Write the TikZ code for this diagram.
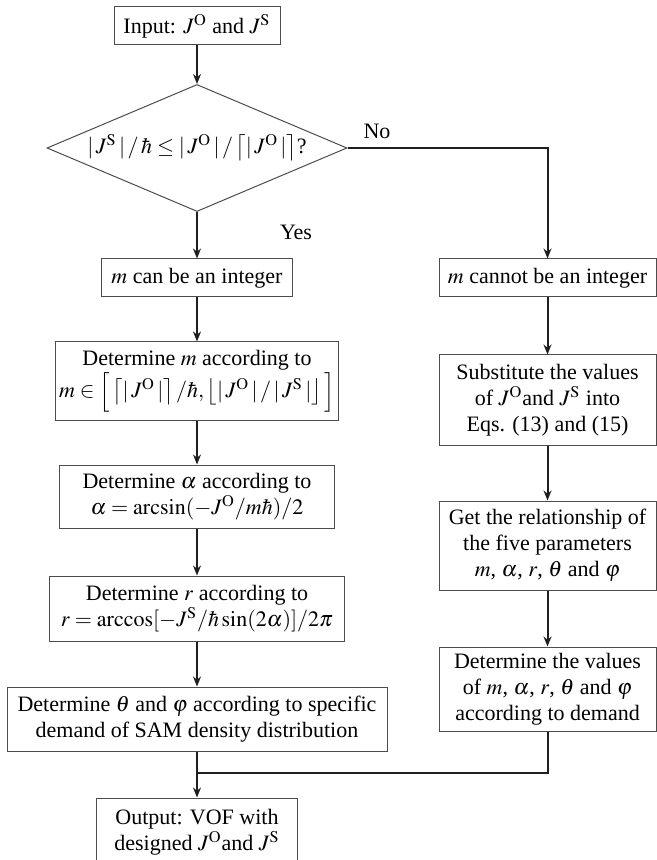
\documentclass[tikz,border=0pt]{standalone}
\usepackage{amsmath,amssymb}
\usepackage{mathptmx}
\usepackage[no-math]{fontspec}
\setmainfont{Liberation Serif}
\usetikzlibrary{
		positioning,
		arrows.meta,
		shapes.geometric
	}
\definecolor{boxline}{gray}{0.3}
\definecolor{flowline}{gray}{0.12}
\tikzset{
		>={Stealth[length=5pt,width=4pt]},
		box/.style={draw=boxline, line width=0.5pt, align=center, inner sep=2pt,
			font=\fontsize{11}{13}\selectfont},
		decision/.style={box, shape=diamond, aspect=2.36, inner sep=1pt},
		flow/.style={draw=flowline, line width=1pt},
		answer/.style={font=\fontsize{11}{13}\selectfont}
	}
\newcommand{\JO}{J^{\mathrm{O}}}
\newcommand{\JS}{J^{\mathrm{S}}}
\begin{document}
\begin{tikzpicture}[x=0.5pt,y=-0.5pt]
		\useasboundingbox (0,0) rectangle (657,860);
		% Left column
		\node[box, minimum width=83pt, minimum height=19pt] (input) at (197,26) {Input: $\JO$ and $\JS$};
		\node[decision, minimum width=150pt, minimum height=63.5pt] (test) at (197,148)
			{$|\,\JS\,|\,/\,\hbar\le|\,\JO\,|\,/\left\lceil|\,\JO\,|\right\rceil$?};
		\node[box, minimum width=95.5pt, minimum height=19pt] (canint) at (197,278) {$m$ can be an integer};
		\node[box, minimum width=140.5pt, minimum height=39pt] (detm) at (197,381)
			{Determine $m$ according to\\ $m\in\Big[\left\lceil|\,\JO\,|\right\rceil/\hbar,\left\lfloor|\,\JO\,|\,/\,|\,\JS\,|\right\rfloor\Big]$};
		\node[box, minimum width=137.5pt, minimum height=31.5pt] (deta) at (197,496.5)
			{Determine $\alpha$ according to\\ $\alpha=\arcsin(-\JO/m\hbar)/2$};
		\node[box, minimum width=147.5pt, minimum height=32.5pt] (detr) at (197,608.5)
			{Determine $r$ according to\\ $r=\arccos[-\JS/\hbar\sin(2\alpha)]/2\pi$};
		\node[box, minimum width=190pt, minimum height=32pt] (dettp) at (197,719)
			{Determine $\theta$ and $\varphi$ according to specific\\ demand of SAM density distribution};
		\node[box, minimum width=100.5pt, minimum height=34pt] (output) at (197,832)
			{Output: VOF with\\ designed $\JO$and $\JS$};
		% Right column
		\node[box, minimum width=108.5pt, minimum height=19pt] (noint) at (547.5,278) {$m$ cannot be an integer};
		\node[box, minimum width=108.5pt, minimum height=45pt] (subst) at (547.5,400)
			{Substitute the values\\ of $\JO$and $\JS$ into\\ Eqs. (13) and (15)};
		\node[box, minimum width=108.5pt, minimum height=44.5pt] (relation) at (547.5,545.5)
			{Get the relationship of\\ the five parameters\\ $m$, $\alpha$, $r$, $\theta$ and $\varphi$};
		\node[box, minimum width=108.5pt, minimum height=42pt] (values) at (547.5,689)
			{Determine the values\\ of $m$, $\alpha$, $r$, $\theta$ and $\varphi$\\ according to demand};
		\coordinate (join) at (197,773);
		% Labels
		\node[answer] (yes) at (296,232) {Yes};
		\node[answer] (no) at (377,131) {No};
		% Arrows
		\draw[flow, ->] (input) -- (test);
		\draw[flow, ->] (test) -- (canint);
		\draw[flow, ->] (test.east) -| (noint.north);
		\draw[flow, ->] (canint) -- (detm);
		\draw[flow, ->] (detm) -- (deta);
		\draw[flow, ->] (deta) -- (detr);
		\draw[flow, ->] (detr) -- (dettp);
		\draw[flow] (dettp) -- (join);
		\draw[flow, ->] (join) -- (output);
		\draw[flow, ->] (noint) -- (subst);
		\draw[flow, ->] (subst) -- (relation);
		\draw[flow, ->] (relation) -- (values);
		\draw[flow] (values.south) |- (join);
	\end{tikzpicture}
\end{document}
